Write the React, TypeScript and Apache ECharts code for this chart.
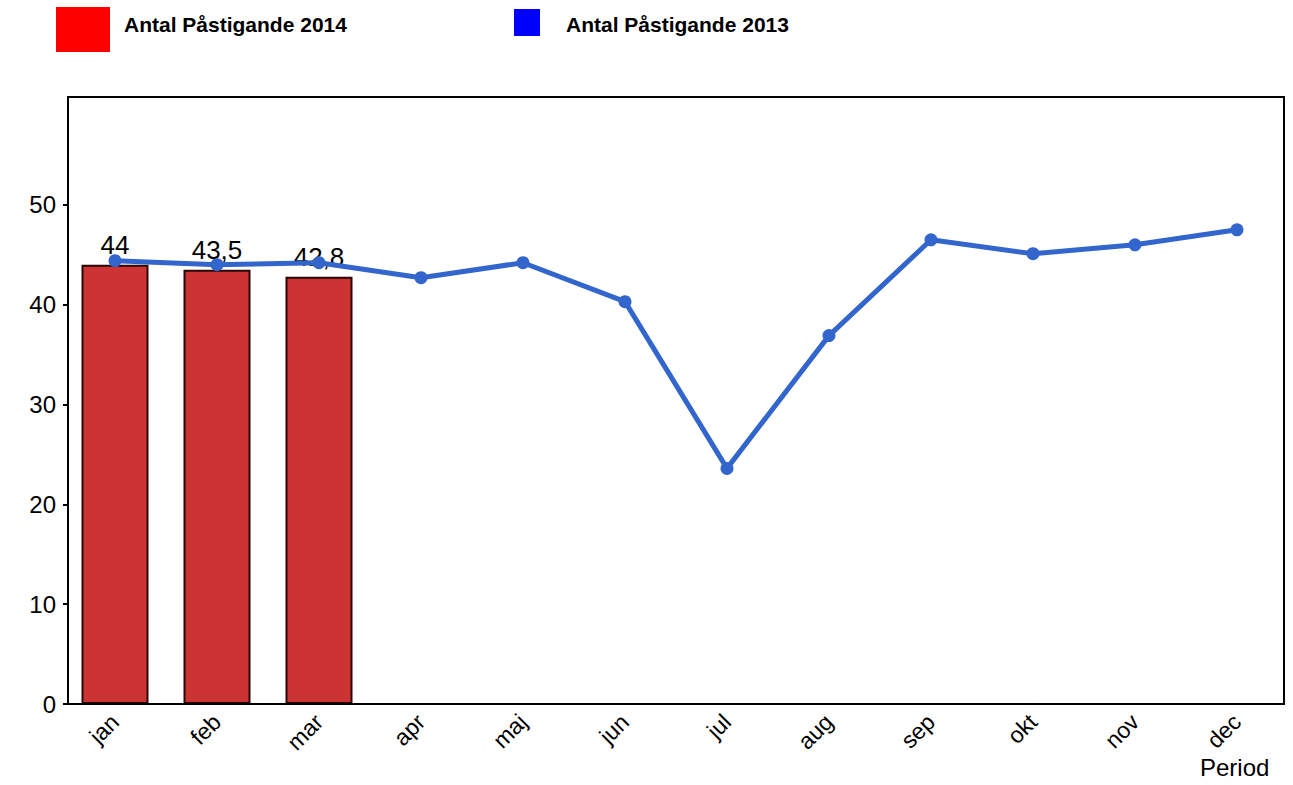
import React, { useEffect, useRef } from "react";
import * as echarts from "echarts";

const months = ["jan", "feb", "mar", "apr", "maj", "jun", "jul", "aug", "sep", "okt", "nov", "dec"];
const values2014 = [44, 43.5, 42.8];
const values2013 = [44.4, 44.0, 44.2, 42.7, 44.2, 40.3, 23.6, 36.9, 46.5, 45.1, 46.0, 47.5];
const yTicks = [0, 10, 20, 30, 40, 50];
const legendNames = ["Antal Påstigande 2014", "Antal Påstigande 2013"];

const FONT = "Liberation Sans, Arial, sans-serif";

export default function App() {
  const ref = useRef<HTMLDivElement>(null);
  useEffect(() => {
    if (!ref.current) return;
    const chart = echarts.init(ref.current, undefined, { renderer: "svg" });
    chart.setOption({
      animation: false,
      backgroundColor: "#ffffff",
      textStyle: { fontFamily: FONT },
      grid: {
        left: 64,
        right: 5,
        top: 97,
        bottom: 81,
        show: false,
      },
      xAxis: {
        type: "category",
        data: months,
        boundaryGap: true,
        axisLine: { show: false },
        axisTick: { show: false },
        axisLabel: {
          rotate: 45,
          color: "#000",
          fontSize: 23,
          fontFamily: FONT,
          margin: 14,
        },
        splitLine: { show: false },
      },
      yAxis: {
        type: "value",
        min: 0,
        max: 60.8,
        interval: 10,
        offset: -4,
        axisLine: { show: false },
        axisTick: {
          show: true,
          length: 5,
          lineStyle: { color: "#000", width: 2 },
          customValues: yTicks,
        },
        axisLabel: {
          color: "#000",
          fontSize: 24,
          fontFamily: FONT,
          margin: 12,
          customValues: yTicks,
        },
        splitLine: { show: false },
      },
      series: [
        {
          name: legendNames[0],
          type: "bar",
          data: values2014,
          barWidth: 67,
          itemStyle: { color: "#CC3333", borderColor: "#2a0808", borderWidth: 2 },
          label: {
            show: true,
            position: "top",
            distance: 7,
            color: "#000",
            fontSize: 26,
            fontFamily: FONT,
            formatter: (p: any) => String(p.value).replace(".", ","),
          },
          z: 2,
        },
        {
          name: legendNames[1],
          type: "line",
          data: values2013,
          symbol: "circle",
          symbolSize: 13,
          lineStyle: { color: "#3366CC", width: 5 },
          itemStyle: { color: "#3366CC" },
          z: 3,
        },
      ],
      graphic: [
        {
          type: "rect",
          z: 100,
          shape: { x: 68, y: 97, width: 1216, height: 607 },
          style: { fill: "none", stroke: "#000", lineWidth: 2 },
        },
        { type: "rect", shape: { x: 56, y: 7, width: 54, height: 45 }, style: { fill: "#FF0000" } },
        {
          type: "text",
          left: 124,
          top: 14,
          style: { text: legendNames[0], fill: "#000", font: `bold 21px ${FONT}` },
        },
        { type: "rect", shape: { x: 514, y: 9, width: 26, height: 27 }, style: { fill: "#0000FF" } },
        {
          type: "text",
          left: 566,
          top: 14,
          style: { text: legendNames[1], fill: "#000", font: `bold 21px ${FONT}` },
        },
        {
          type: "text",
          left: 1200,
          top: 755,
          style: { text: "Period", fill: "#000", font: `24px ${FONT}` },
        },
      ],
    });
    return () => chart.dispose();
  }, []);
  return (
    <div
      ref={ref}
      style={{ position: "absolute", left: 0, top: 0, width: 1293, height: 785 }}
    />
  );
}
